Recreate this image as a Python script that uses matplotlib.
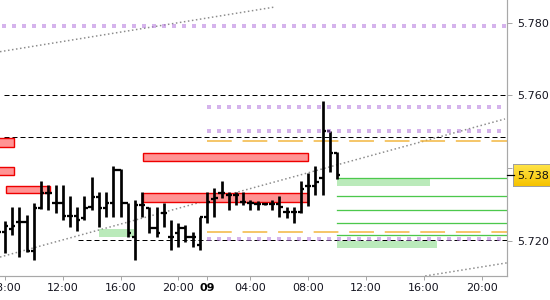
import matplotlib
matplotlib.use('Agg')
import matplotlib.pyplot as plt
import numpy as np
from matplotlib.patches import Rectangle
from matplotlib.lines import Line2D
from matplotlib.colors import LinearSegmentedColormap

# ---------------- data ----------------
# 30-minute bars, x = bar index (sessions compressed)
bar_idx = list(range(-1, 47))
opens = [5.7230, 5.7225, 5.7232, 5.7252, 5.7251, 5.7172, 5.7289, 5.7332, 5.7304, 5.7304,
         5.7268, 5.7268, 5.7262, 5.7294, 5.7321, 5.7290, 5.7304, 5.7394, 5.7303, 5.7211,
         5.7298, 5.7290, 5.7235, 5.7277, 5.7211, 5.7220, 5.7234, 5.7211, 5.7188, 5.7264,
         5.7314, 5.7330, 5.7326, 5.7326, 5.7307, 5.7303, 5.7301, 5.7301, 5.7301, 5.7301,
         5.7280, 5.7280, 5.7280, 5.7350, 5.7350, 5.7372, 5.7503, 5.7442]
highs = [5.7246, 5.7254, 5.7294, 5.7294, 5.7271, 5.7303, 5.7364, 5.7353, 5.7353, 5.7353,
         5.7323, 5.7294, 5.7323, 5.7376, 5.7335, 5.7335, 5.7406, 5.7396, 5.7303, 5.7312,
         5.7335, 5.7294, 5.7294, 5.7303, 5.7257, 5.7248, 5.7243, 5.7225, 5.7264, 5.7335,
         5.7344, 5.7364, 5.7335, 5.7335, 5.7335, 5.7312, 5.7310, 5.7304, 5.7312, 5.7323,
         5.7292, 5.7292, 5.7365, 5.7385, 5.7406, 5.7585, 5.7503, 5.7445]
lows = [5.7210, 5.7167, 5.7216, 5.7156, 5.7170, 5.7147, 5.7286, 5.7284, 5.7277, 5.7257,
        5.7239, 5.7227, 5.7257, 5.7284, 5.7239, 5.7266, 5.7266, 5.7266, 5.7211, 5.7147,
        5.7266, 5.7220, 5.7211, 5.7239, 5.7174, 5.7184, 5.7197, 5.7184, 5.7174, 5.7250,
        5.7266, 5.7317, 5.7284, 5.7298, 5.7298, 5.7284, 5.7284, 5.7298, 5.7284, 5.7266,
        5.7262, 5.7250, 5.7277, 5.7295, 5.7326, 5.7326, 5.7390, 5.7369]
closes = [5.7225, 5.7240, 5.7240, 5.7252, 5.7172, 5.7289, 5.7332, 5.7332, 5.7304, 5.7268,
          5.7268, 5.7257, 5.7289, 5.7321, 5.7290, 5.7304, 5.7394, 5.7304, 5.7221, 5.7298,
          5.7298, 5.7235, 5.7221, 5.7277, 5.7211, 5.7234, 5.7211, 5.7211, 5.7264, 5.7307,
          5.7317, 5.7330, 5.7326, 5.7326, 5.7307, 5.7303, 5.7301, 5.7301, 5.7301, 5.7292,
          5.7280, 5.7280, 5.7341, 5.7350, 5.7362, 5.7503, 5.7442, 5.7381]

xtick_pos = [0, 8, 16, 24, 28, 34, 42, 50, 58, 66]
xtick_labels = ['08:00', '12:00', '16:00', '20:00', '09', '04:00', '08:00', '12:00', '16:00', '20:00']
ytick_vals = [5.720, 5.740, 5.760, 5.780]
last_price = 5.738

# levels: (start index, price)
purple_levels = [(-0.4, 5.7792), (28, 5.7569), (28, 5.7502), (28, 5.7204)]
black_levels = [(-0.15, 5.7600), (-0.15, 5.7485), (10.1, 5.7201)]
orange_levels = [(28, 5.7473), (28, 5.7224)]
green_levels = [(46, 5.7372), (46, 5.7322), (46, 5.7284), (46, 5.7249), (46, 5.7215)]
# zones: (x start, x end, price low, price high)
red_zones = [(-1.5, 1.2, 5.7459, 5.7482), (-1.5, 1.2, 5.7381, 5.7402), (0.14, 6.23, 5.7330, 5.7350),
             (19.15, 42.0, 5.7418, 5.7440), (19.15, 42.0, 5.7307, 5.7332)]
green_zones = [(13.0, 17.85, 5.7211, 5.7232), (46, 58.9, 5.7351, 5.7370), (46, 59.8, 5.7181, 5.7200)]
# trend lines: two points (index, price)
trend_lines = [((-0.69, 5.7720), (37.4, 5.7843)),
               ((-0.69, 5.7155), (69.25, 5.7535)),
               ((58.2, 5.7103), (69.5, 5.7139))]

# ---------------- plot ----------------
fig = plt.figure(figsize=(5.5, 3), dpi=100)
ax = fig.add_axes([0, 24 / 300, 507 / 550, 276 / 300])
XMIN, XMAX = -0.69, 69.53
ax.set_xlim(XMIN, XMAX)
ax.set_ylim(5.71029, 5.78622)

px = 0.72  # points per pixel

for (p0, p1) in trend_lines:
    ax.plot([p0[0], p1[0]], [p0[1], p1[1]], color='#8c8c8c', lw=1.5 * px,
            linestyle=(0, (1, 1.7)), zorder=1)

for (x0, v) in black_levels:
    ax.plot([x0, XMAX], [v, v], color='black', lw=1 * px, linestyle=(0, (5, 3)), zorder=1.2)

for (x0, v) in orange_levels:
    ax.plot([x0, XMAX], [v, v], color='#f2b53c', lw=1.5 * px, linestyle=(0, (16.5, 7.2)), zorder=1.2)

for (x0, v) in green_levels:
    ax.plot([x0, XMAX], [v, v], color='#4cc84c', lw=1.3 * px, zorder=1.2)

for (x0, x1, v0, v1) in red_zones:
    ax.add_patch(Rectangle((x0, v0), x1 - x0, v1 - v0, facecolor='#ff9494',
                           edgecolor='#ee0000', lw=1.4 * px, zorder=1.5))

for (x0, x1, v0, v1) in green_zones:
    ax.add_patch(Rectangle((x0, v0), x1 - x0, v1 - v0, facecolor='#8cdc8c',
                           edgecolor='none', alpha=0.6, zorder=1.5))

# OHLC bars
tick = 0.45
ax.vlines(bar_idx, lows, highs, color='black', lw=2.7 * px, zorder=3, capstyle='butt')
ax.hlines(opens, np.array(bar_idx) - tick, bar_idx, color='black', lw=2.3 * px, zorder=3)
ax.hlines(closes, bar_idx, np.array(bar_idx) + tick, color='black', lw=2.3 * px, zorder=3)

for (x0, v) in purple_levels:
    ax.plot([x0, XMAX - 0.2], [v, v], color=(0.70, 0.46, 0.87), alpha=0.55, lw=4 * px,
            linestyle=(0, (1, 1.5)), solid_capstyle='butt', dash_capstyle='butt', zorder=4)

# axes styling
for s in ['top', 'left']:
    ax.spines[s].set_visible(False)
for s in ['right', 'bottom']:
    ax.spines[s].set_color('#a8a8a8')
    ax.spines[s].set_linewidth(1.2 * px)

ax.yaxis.tick_right()
ax.set_yticks(ytick_vals)
ax.set_yticklabels([f'{v:.3f}' for v in ytick_vals])
ax.tick_params(axis='y', direction='out', length=5 * px, width=1 * px, color='#a8a8a8',
               pad=3.5, labelsize=8, labelcolor='#151520')
ax.set_xticks(xtick_pos)
ax.set_xticklabels(xtick_labels)
ax.tick_params(axis='x', direction='out', length=4 * px, width=1 * px, color='#a8a8a8',
               pad=2.5, labelsize=8, labelcolor='#151520')
for lab in ax.get_xticklabels():
    if lab.get_text() == '09':
        lab.set_fontweight('bold')
        lab.set_color('black')

# last price box
ytrans = ax.transData.transform((0, last_price))[1]
yfig = ytrans / fig.bbox.height
fig.add_artist(Line2D([507 / 550, 514 / 550], [yfig, yfig], color='black', lw=1.2 * px,
                      transform=fig.transFigure))
bh = 22 / 300
bax = fig.add_axes([513 / 550, yfig - bh / 2, 37 / 550, bh])
grad = np.linspace(0, 1, 50).reshape(-1, 1)
cmap = LinearSegmentedColormap.from_list('y', ['#ffe44a', '#f6c300'])
bax.imshow(grad, aspect='auto', cmap=cmap, extent=[0, 1, 0, 1])
bax.set_xticks([]); bax.set_yticks([])
for s in bax.spines.values():
    s.set_color('#a0a0a0'); s.set_linewidth(1 * px)
bax.text(0.1, 0.45, f'{last_price:.3f}', fontsize=8, color='#101010', ha='left', va='center',
         transform=bax.transAxes)

fig.savefig('out.png', dpi=100, facecolor='white')
